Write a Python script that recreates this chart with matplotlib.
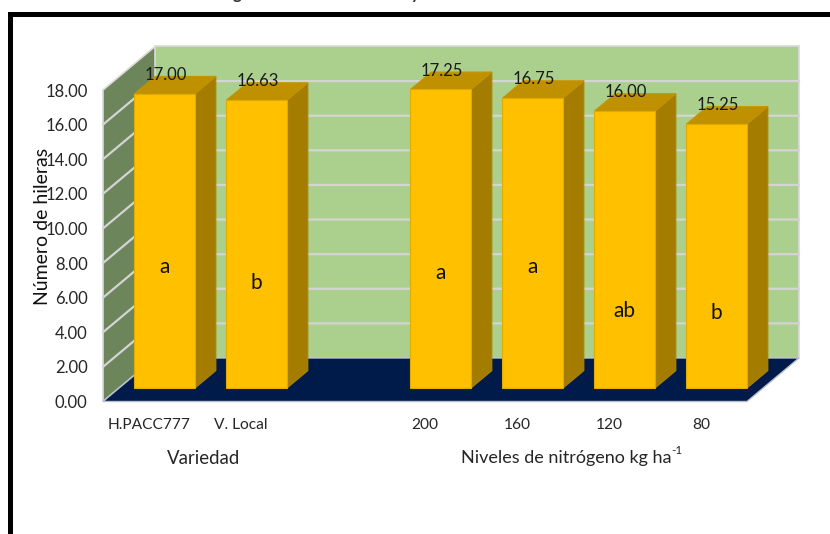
#!/usr/bin/env python3
import matplotlib
matplotlib.use('Agg')
import matplotlib.pyplot as plt
from matplotlib.patches import Polygon, Rectangle

##chart values
categorias=['H.PACC777','V. Local','','200','160','120','80']
valores=[17.00,16.63,None,17.25,16.75,16.00,15.25]
letras=['a','b','','a','a','ab','b']
##letter heights, same units as the y axis
letras_y=[7.8,6.85,None,7.45,7.75,5.25,5.1]
yticks=[0,2,4,6,8,10,12,14,16,18]

##figure size in pixels
W=830
H=534
##oblique depth of the chart box in data units
DX=52/92
DY=43.5/17.3

plt.rcParams['font.family']=['Lato','DejaVu Sans']

fig=plt.figure(figsize=(W/100,H/100),dpi=100)
##axes covers the front plane of the 3d box
ax=fig.add_axes([103/W,1-401.5/H,644/W,311.5/H])
ax.set_xlim(0,7)
ax.set_ylim(0,18)
ax.patch.set_visible(False)
for s in ax.spines.values():
    s.set_visible(False)

##shift a point backward into the box, d=0 front, d=1 back
def oblique(x,y,d):
    return (x+DX*d,y+DY*d)

def face(pts,color,edge='none',z=1,lw=0.8):
    ax.add_patch(Polygon(pts,closed=True,fc=color,ec=edge,lw=lw,zorder=z,clip_on=False))

##back wall, side wall and floor
face([oblique(0,0,1),oblique(7,0,1),oblique(7,18,1),oblique(0,18,1)],'#ABD08D','#D9D9D9',1,1.2)
face([oblique(0,0,0),oblique(0,0,1),oblique(0,18,1),oblique(0,18,0)],'#6C855B','#D9D9D9',1,1.2)
face([oblique(0,0,0),oblique(7,0,0),oblique(7,0,1),oblique(0,0,1)],'#001A4A','#B8BECC',2,1.0)

##gridlines over the walls
for t in yticks[1:-1]:
    a=oblique(0,t,0)
    b=oblique(0,t,1)
    c=oblique(7,t,1)
    ax.plot([a[0],b[0],c[0]],[a[1],b[1],c[1]],color='#D4D4D4',lw=1.6,zorder=3,clip_on=False,solid_joinstyle='miter')

##bars, each one a front, a top and a side face
for i,v in enumerate(valores):
    if v is None:
        continue
    x0=i+1/6
    x1=i+0.825
    d0=0.31
    d1=0.71
    p0=oblique(x0,0,d0)
    p1=oblique(x1,v,d0)
    face([oblique(x1,0,d0),oblique(x1,0,d1),oblique(x1,v,d1),oblique(x1,v,d0)],'#A37C00','#AD8500',5)
    face([oblique(x0,v,d0),oblique(x0,v,d1),oblique(x1,v,d1),oblique(x1,v,d0)],'#BF9000','#C49400',5)
    ax.add_patch(Rectangle(p0,p1[0]-p0[0],p1[1]-p0[1],fc='#FFC000',ec='#E0AA00',lw=0.8,zorder=6,clip_on=False))
    ##value above the bar and the letter of the mean test
    ax.annotate('%.2f'%v,(p0[0]+(p1[0]-p0[0])/2,v),xytext=(0.5,17.5),textcoords='offset points',ha='center',va='bottom',
                fontsize=12,color='#1a1a1a',zorder=8,annotation_clip=False)
    ax.text(p0[0]+(p1[0]-p0[0])/2,letras_y[i],letras[i],ha='center',va='center',fontsize=15,color='#111111',zorder=8)

##axis ticks
ax.set_yticks(yticks)
ax.set_yticklabels(['%.2f'%t for t in yticks])
ax.set_xticks([i+0.5 for i in range(7)])
ax.set_xticklabels(categorias)
ax.tick_params(axis='y',length=0,labelsize=12,labelcolor='#262626',pad=11)
ax.tick_params(axis='x',length=0,labelsize=11.2,labelcolor='#262626',pad=12)

##group labels and y title, placed in figure pixels
fig.text(204/W,1-458/H,'Variedad',ha='center',va='center',fontsize=13.4,color='#262626')
nivel=fig.text(461/W,1-458/H,'Niveles de nitrógeno kg ha',ha='left',va='center',fontsize=13,color='#262626')
##plain hyphen in the exponent like the original, not a math minus
ax.annotate('-1',xy=(1,0.62),xycoords=nivel,ha='left',va='bottom',fontsize=8.5,color='#262626',annotation_clip=False)
fig.text(42/W,1-226/H,'Número de hileras',rotation=90,ha='center',va='center',fontsize=14,color='#111111')

##bottoms of the title letters cut off by the top of the crop
fig.text(237/W,1+1/H,'g',ha='center',va='baseline',fontsize=12,fontweight='bold',color='#333333')
fig.text(415/W,1+1/H,'y',ha='center',va='baseline',fontsize=12,fontweight='bold',color='#333333')

##black frame, only top and left sides are in the crop
fig.add_artist(Rectangle((8/W,0),5/W,1-12/H,transform=fig.transFigure,fc='black',ec='none'))
fig.add_artist(Rectangle((8/W,1-17/H),1-8/W,5/H,transform=fig.transFigure,fc='black',ec='none'))

fig.savefig('out.png',dpi=100)
